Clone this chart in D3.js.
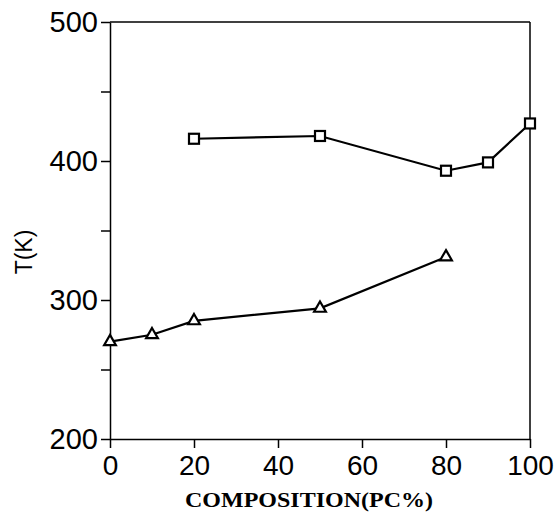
<!DOCTYPE html>
<html>
<head>
<meta charset="utf-8">
<script src="https://cdn.jsdelivr.net/npm/d3@7"></script>
<style>
  html, body { margin: 0; padding: 0; background: #fff; }
  svg { display: block; }
</style>
</head>
<body>
<svg id="chart" width="554" height="513"></svg>
<script>
// Data
const squareX = [20, 50, 80, 90, 100];
const squareT = [416, 418, 393, 399, 427];
const triangleX = [0, 10, 20, 50, 80];
const triangleT = [270, 275, 285, 294, 331];
const xTicks = [0, 20, 40, 60, 80, 100];
const yTicksMajor = [200, 300, 400, 500];
const yTicksMinor = [250, 350, 450];
const xTitle = "COMPOSITION(PC%)";
const yTitle = "T(K)";

(function () {
const svg = d3.select("#chart");
const mLeft = 110, mRight = 530, mTop = 22, mBottom = 439;

const x = d3.scaleLinear().domain([0, 100]).range([mLeft, mRight]);
const y = d3.scaleLinear().domain([200, 500]).range([mBottom, mTop]);

const tickFont = "'Liberation Sans', Arial, sans-serif";

// frame (top + right)
svg.append("line").attr("x1", mLeft).attr("x2", mRight).attr("y1", mTop).attr("y2", mTop)
  .attr("stroke", "#000").attr("stroke-width", 1.5);
svg.append("line").attr("x1", mRight).attr("x2", mRight).attr("y1", mTop).attr("y2", mBottom)
  .attr("stroke", "#000").attr("stroke-width", 1.5);

// x axis
const xAxis = svg.append("g").attr("transform", `translate(0,${mBottom})`)
  .call(d3.axisBottom(x).tickValues(xTicks).tickSize(9).tickPadding(8).tickSizeOuter(0));
xAxis.select(".domain").attr("stroke-width", 1.5);
xAxis.selectAll(".tick line").attr("stroke-width", 1.5);
xAxis.selectAll(".tick text").attr("font-family", tickFont).attr("font-size", 28)
  .attr("fill", "#000").attr("dy", "0.68em");

// y axis major
const yAxis = svg.append("g").attr("transform", `translate(${mLeft},0)`)
  .call(d3.axisLeft(y).tickValues(yTicksMajor).tickSize(9).tickPadding(3).tickSizeOuter(0));
yAxis.select(".domain").attr("stroke-width", 1.5);
yAxis.selectAll(".tick line").attr("stroke-width", 1.5);
yAxis.selectAll(".tick text").attr("font-family", tickFont).attr("font-size", 29)
  .attr("fill", "#000");

// y axis minor
const yMinor = svg.append("g").attr("transform", `translate(${mLeft},0)`)
  .call(d3.axisLeft(y).tickValues(yTicksMinor).tickSize(9).tickFormat(""));
yMinor.select(".domain").remove();
yMinor.selectAll(".tick line").attr("stroke-width", 1.5);

// titles
svg.append("text").attr("x", 309).attr("y", 507).attr("text-anchor", "middle")
  .attr("font-family", "'Liberation Serif', 'Times New Roman', serif")
  .attr("font-weight", "bold").attr("font-size", 21)
  .attr("textLength", 248).attr("lengthAdjust", "spacingAndGlyphs")
  .text(xTitle);

svg.append("text").attr("transform", "translate(32,252) rotate(-90)")
  .attr("text-anchor", "middle")
  .attr("font-family", tickFont).attr("font-size", 23)
  .text(yTitle);

// lines
const line = d3.line().x(d => x(d[0])).y(d => y(d[1]));
const sqData = squareX.map((v, i) => [v, squareT[i]]);
const trData = triangleX.map((v, i) => [v, triangleT[i]]);

svg.append("path").datum(sqData).attr("d", line)
  .attr("fill", "none").attr("stroke", "#000").attr("stroke-width", 2.2);
svg.append("path").datum(trData).attr("d", line)
  .attr("fill", "none").attr("stroke", "#000").attr("stroke-width", 2.2);

// square markers
svg.selectAll(".sq").data(sqData).enter().append("rect")
  .attr("x", d => x(d[0]) - 5).attr("y", d => y(d[1]) - 5)
  .attr("width", 10).attr("height", 10)
  .attr("fill", "#fff").attr("stroke", "#000").attr("stroke-width", 2.2);

// triangle markers
const tri = d3.symbol().type(d3.symbolTriangle).size(60);
svg.selectAll(".tr").data(trData).enter().append("path")
  .attr("d", tri)
  .attr("transform", d => `translate(${x(d[0])},${y(d[1])})`)
  .attr("fill", "#fff").attr("stroke", "#000").attr("stroke-width", 2.2);
})();
</script>
</body>
</html>
